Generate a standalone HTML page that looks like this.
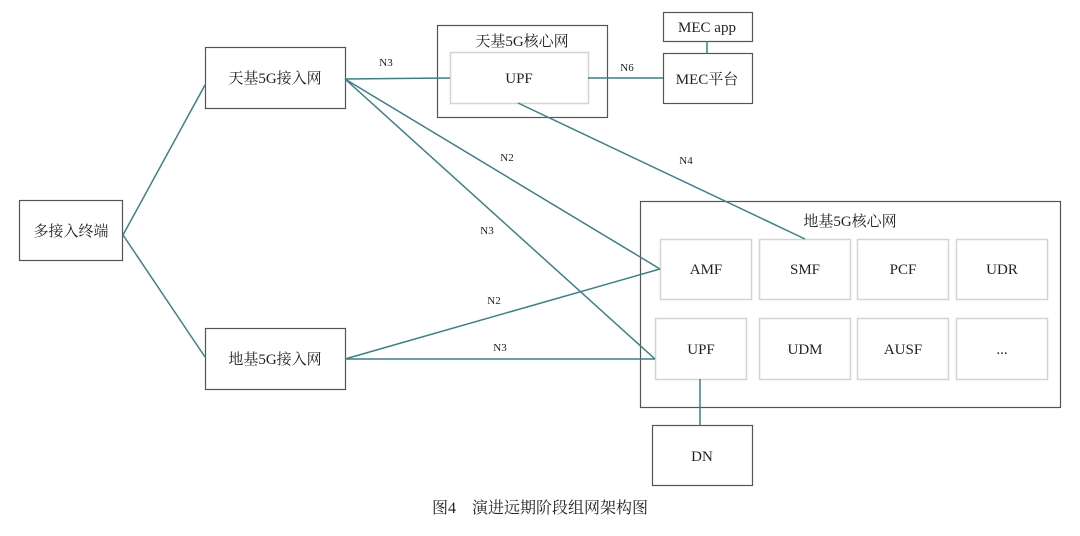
<!DOCTYPE html>
<html><head><meta charset="utf-8"><style>
body{margin:0;background:#fff;}
svg text{font-family:"Liberation Serif","Noto Serif CJK SC",serif;fill:#222;}
</style></head><body>
<svg width="1080" height="531" viewBox="0 0 1080 531" xmlns="http://www.w3.org/2000/svg">
<g fill="none" stroke="#555" stroke-width="1.2">
<rect x="19.5" y="200.5" width="103" height="60"/>
<rect x="205.5" y="47.5" width="140" height="61"/>
<rect x="205.5" y="328.5" width="140" height="61"/>
<rect x="437.5" y="25.5" width="170" height="92"/>
<rect x="663.5" y="12.5" width="89" height="29"/>
<rect x="663.5" y="53.5" width="89" height="50"/>
<rect x="640.5" y="201.5" width="420" height="206"/>
<rect x="652.5" y="425.5" width="100" height="60"/>
</g>
<g fill="#fff" stroke="#d4d4d4" stroke-width="1.5">
<rect x="450.5" y="52.5" width="138" height="51"/>
<rect x="660.5" y="239.5" width="91" height="60"/>
<rect x="759.5" y="239.5" width="91" height="60"/>
<rect x="857.5" y="239.5" width="91" height="60"/>
<rect x="956.5" y="239.5" width="91" height="60"/>
<rect x="655.5" y="318.5" width="91" height="61"/>
<rect x="759.5" y="318.5" width="91" height="61"/>
<rect x="857.5" y="318.5" width="91" height="61"/>
<rect x="956.5" y="318.5" width="91" height="61"/>
</g>
<g stroke="#3f7f86" stroke-width="1.5" fill="none">
<line x1="123" y1="235" x2="205" y2="85"/>
<line x1="123" y1="235" x2="205" y2="357"/>
<line x1="345" y1="79" x2="450" y2="78"/>
<line x1="345" y1="79" x2="660" y2="269"/>
<line x1="345" y1="79" x2="655" y2="359"/>
<line x1="345" y1="359" x2="660" y2="269"/>
<line x1="345" y1="359" x2="655" y2="359"/>
<line x1="518" y1="103" x2="805" y2="239"/>
<line x1="588" y1="78" x2="663" y2="78"/>
<line x1="707" y1="41" x2="707" y2="53"/>
<line x1="700" y1="379" x2="700" y2="425"/>
</g>
<g font-size="15" text-anchor="middle">
<text x="71" y="236">多接入终端</text>
<text x="275" y="83">天基5G接入网</text>
<text x="275" y="364">地基5G接入网</text>
<text x="522" y="46">天基5G核心网</text>
<text x="519" y="83">UPF</text>
<text x="707" y="32">MEC app</text>
<text x="707" y="84">MEC平台</text>
<text x="850" y="226">地基5G核心网</text>
<text x="706" y="274">AMF</text>
<text x="805" y="274">SMF</text>
<text x="903" y="274">PCF</text>
<text x="1002" y="274">UDR</text>
<text x="701" y="354">UPF</text>
<text x="805" y="354">UDM</text>
<text x="903" y="354">AUSF</text>
<text x="1002" y="354">...</text>
<text x="702" y="461">DN</text>
</g>
<g font-size="11" text-anchor="middle">
<text x="386" y="66">N3</text>
<text x="627" y="71">N6</text>
<text x="507" y="161">N2</text>
<text x="686" y="164">N4</text>
<text x="487" y="234">N3</text>
<text x="494" y="304">N2</text>
<text x="500" y="351">N3</text>
</g>
<text x="540" y="513" font-size="16" text-anchor="middle">图4　演进远期阶段组网架构图</text>
</svg>
</body></html>
